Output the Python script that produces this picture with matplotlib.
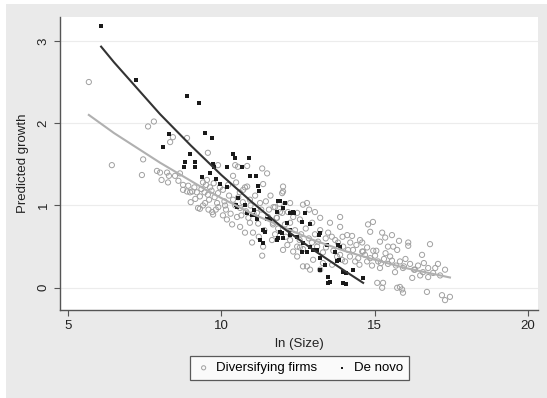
import matplotlib
matplotlib.use("Agg")
import matplotlib.pyplot as plt
from matplotlib.patches import Rectangle

plt.rcParams['font.family'] = ['Liberation Sans', 'DejaVu Sans']

# diversifying firms (hollow grey circles)
div_x = [5.68, 6.43, 7.61, 7.80, 7.45, 7.41, 7.90, 8.00, 8.23, 8.29, 8.49, 8.65, 8.26, 8.33, 8.42, 8.88, 8.05, 8.60, 8.75,
         9.56, 9.89, 10.45, 10.54, 10.84, 11.33, 11.49, 10.38, 10.77, 9.53, 9.40, 9.63,
         8.75, 8.88, 8.98, 9.05, 9.20, 9.30, 9.24, 9.30, 9.56, 9.47, 9.70, 9.73, 9.86, 9.89, 9.12, 9.35, 9.45, 9.60,
         9.68, 9.78, 9.90, 9.95, 9.15, 9.40, 9.58, 9.82, 9.00, 8.92, 9.50, 9.75,
         10.05, 10.18, 10.35, 10.38, 10.61, 10.51, 10.61, 10.71, 10.77, 10.93, 10.93, 11.03, 11.00, 10.84, 10.10,
         10.15, 10.25, 10.30, 10.45, 10.55, 10.65, 10.70, 10.80, 10.88, 10.95, 10.05, 10.22, 10.48, 10.60, 10.12,
         11.26, 11.16, 11.52, 11.68, 11.98, 11.98, 12.01, 11.36, 12.01, 11.36, 11.33, 11.10, 11.20, 11.30, 11.40,
         11.45, 11.55, 11.60, 11.70, 11.75, 11.80, 11.85, 11.90, 11.65, 11.81, 11.75, 11.68, 11.91, 11.05, 11.22,
         12.24, 12.47, 12.24, 12.47, 12.47, 12.07, 12.17, 12.34, 12.56, 12.66, 12.79, 12.86, 12.66, 12.24, 12.34,
         12.01, 12.56, 12.79, 12.66, 12.96, 12.99, 12.89, 12.10, 12.40, 12.60, 12.75, 12.85, 12.15, 12.95, 12.55,
         13.05, 13.22, 13.54, 13.87, 13.48, 13.22, 13.31, 13.22, 13.31, 13.61, 13.93, 13.77, 13.97, 13.87, 13.12,
         13.41, 13.15, 13.71, 13.87, 13.60, 13.40, 13.80, 13.05, 13.65, 13.95,
         14.10, 14.26, 14.52, 14.29, 14.62, 14.75, 14.19, 14.46, 14.03, 14.36, 14.13, 14.78, 14.94, 14.85, 14.59,
         14.59, 14.68, 14.85, 14.75, 14.91, 14.40, 14.20, 14.95, 14.50,
         15.24, 15.34, 15.56, 15.17, 15.79, 16.09, 16.09, 16.80, 15.43, 15.60, 15.73, 16.54, 15.01, 15.11, 15.30,
         15.43, 15.56, 15.69, 15.82, 15.95, 16.15, 16.28, 16.41, 16.57, 16.74, 16.90, 16.97, 17.13, 16.74, 16.48,
         16.22, 15.92, 16.31, 15.17, 15.66, 17.29, 17.06, 15.08, 15.27, 15.24, 15.73, 15.82, 15.89, 15.92, 16.70,
         17.19, 17.29, 17.45, 15.05, 15.35, 15.50, 15.20, 16.00, 16.60]
div_y = [2.50, 1.49, 1.96, 2.02, 1.56, 1.37, 1.42, 1.40, 1.40, 1.36, 1.36, 1.39, 1.28, 1.77, 1.83, 1.82, 1.31, 1.30, 1.25,
         1.64, 1.49, 1.49, 1.47, 1.48, 1.45, 1.39, 1.36, 1.22, 1.31, 1.28, 1.22,
         1.19, 1.17, 1.16, 1.17, 1.16, 1.11, 0.97, 0.96, 1.13, 1.03, 0.92, 0.89, 1.03, 1.15, 1.22, 1.20, 1.16, 1.07,
         1.18, 1.10, 0.98, 1.22, 1.08, 1.00, 0.95, 0.95, 1.04, 1.24, 1.25, 1.27,
         1.19, 0.83, 0.77, 1.07, 0.97, 0.86, 0.74, 1.19, 0.67, 1.07, 0.79, 0.67, 0.55, 1.23, 1.05,
         0.95, 1.12, 0.90, 1.00, 1.10, 0.88, 1.04, 0.93, 0.85, 1.00, 0.88, 1.25, 1.28, 1.16, 1.00,
         1.03, 0.91, 0.86, 0.79, 0.91, 1.15, 1.17, 1.26, 1.23, 0.50, 0.39, 1.12, 0.78, 0.95, 0.70,
         1.05, 0.95, 1.12, 0.98, 0.65, 0.85, 0.72, 1.02, 0.58, 0.85, 0.98, 0.77, 0.92, 0.90, 0.62,
         1.03, 0.91, 0.79, 0.50, 0.38, 0.77, 0.92, 0.86, 0.83, 1.01, 1.03, 0.95, 0.47, 0.58, 0.44,
         0.46, 0.49, 0.26, 0.26, 0.79, 0.34, 0.22, 0.62, 0.70, 0.65, 0.72, 0.60, 0.52, 0.55, 0.58,
         0.92, 0.85, 0.79, 0.74, 0.67, 0.70, 0.43, 0.22, 0.30, 0.28, 0.34, 0.38, 0.50, 0.86, 0.50,
         0.49, 0.56, 0.58, 0.40, 0.62, 0.60, 0.55, 0.65, 0.45, 0.62,
         0.64, 0.63, 0.58, 0.46, 0.44, 0.49, 0.38, 0.36, 0.32, 0.32, 0.46, 0.77, 0.80, 0.68, 0.55,
         0.44, 0.40, 0.36, 0.32, 0.27, 0.52, 0.55, 0.45, 0.28,
         0.67, 0.61, 0.64, 0.56, 0.57, 0.55, 0.51, 0.53, 0.50, 0.50, 0.46, 0.40, 0.39, 0.32, 0.35,
         0.29, 0.33, 0.27, 0.32, 0.26, 0.29, 0.22, 0.27, 0.19, 0.24, 0.18, 0.24, 0.15, 0.13, 0.15,
         0.12, 0.24, 0.22, 0.24, 0.19, 0.22, 0.29, 0.06, 0.06, 0.00, 0.00, 0.01, -0.02, -0.06, -0.05,
         -0.09, -0.15, -0.11, 0.45, 0.42, 0.38, 0.30, 0.35, 0.30]

# de novo entrants (small black dots)
dn_x = [6.08, 7.22, 8.88, 9.27, 9.47, 9.70, 8.10, 8.29, 8.98, 8.81, 9.14, 8.78, 9.14, 10.38, 10.45, 10.90, 9.73,
        9.76, 10.18, 10.67, 9.63, 9.37, 9.83, 10.93, 11.13, 9.96, 10.18, 11.19, 11.23, 10.54, 11.85, 10.77, 10.48,
        11.06, 10.51, 11.03, 11.16, 11.49, 11.85, 11.26, 11.36, 10.84, 11.00, 11.16, 11.36, 11.42, 11.59, 11.81,
        12.01, 12.14, 12.34, 12.24, 12.47, 11.81, 11.98, 11.91, 12.24, 12.73, 12.89, 13.22, 13.44, 13.80, 12.24,
        11.91, 12.01, 12.63, 12.79, 12.99, 13.12, 12.89, 12.66, 13.22, 13.71, 13.84, 14.29, 13.97, 14.06, 13.48,
        13.54, 13.97, 14.06, 14.62, 13.48, 13.22, 13.38, 13.77, 13.87, 13.18, 12.37, 12.07, 12.63]
dn_y = [3.18, 2.52, 2.33, 2.24, 1.88, 1.82, 1.71, 1.87, 1.62, 1.53, 1.53, 1.47, 1.47, 1.63, 1.58, 1.58, 1.51,
        1.47, 1.47, 1.47, 1.40, 1.34, 1.32, 1.36, 1.36, 1.26, 1.23, 1.24, 1.17, 1.09, 1.06, 1.01, 1.01,
        0.94, 0.98, 0.89, 0.86, 0.83, 0.61, 0.58, 0.55, 0.91, 0.89, 0.83, 0.70, 0.68, 0.83, 0.92,
        0.97, 0.79, 0.92, 0.64, 0.62, 0.58, 0.67, 1.05, 0.91, 0.91, 0.77, 0.67, 0.52, 0.52, 0.70,
        0.68, 0.61, 0.44, 0.43, 0.46, 0.46, 0.50, 0.55, 0.36, 0.43, 0.34, 0.22, 0.19, 0.18, 0.13,
        0.07, 0.06, 0.05, 0.12, 0.06, 0.22, 0.28, 0.32, 0.50, 0.64, 0.91, 1.03, 0.80]

# fitted curves
fit_div_x = [5.68, 6.5, 7, 7.5, 8, 8.5, 9, 9.5, 10, 11, 12, 13, 14, 15, 16, 17.45]
fit_div_y = [2.10, 1.88, 1.76, 1.64, 1.52, 1.41, 1.30, 1.19, 1.09, 0.90, 0.74, 0.58, 0.45, 0.34, 0.24, 0.125]
fit_dn_x = [6.08, 6.5, 7, 7.5, 8, 8.5, 9, 9.5, 10, 11, 12, 13, 14, 14.62]
fit_dn_y = [2.93, 2.74, 2.53, 2.32, 2.11, 1.92, 1.73, 1.55, 1.37, 1.04, 0.73, 0.46, 0.21, 0.06]

fig = plt.figure(figsize=(5.47, 3.98), dpi=100)
fig.patch.set_facecolor('white')
fig.patches.append(Rectangle((6 / 547, 0), 541 / 547, 394 / 398, transform=fig.transFigure,
                             facecolor='#eaeaea', edgecolor='none', zorder=-10))

ax = fig.add_axes([60 / 547, 1 - 310 / 398, 478 / 547, 293 / 398])
ax.set_facecolor('white')

ax.scatter(div_x, div_y, s=14, facecolors='none', edgecolors='#a0a0a0', linewidths=0.7,
           label='Diversifying firms', zorder=2)
ax.scatter(dn_x, dn_y, s=5, color='#1a1a1a', marker='s', linewidths=0, label='De novo', zorder=3)
ax.plot(fit_div_x, fit_div_y, color='#b0b0b0', lw=1.5, zorder=4)
ax.plot(fit_dn_x, fit_dn_y, color='#333333', lw=1.5, zorder=4)

ax.set_xlim(4.74, 20.32)
ax.set_ylim(-0.27, 3.29)
ax.set_xticks([5, 10, 15, 20])
ax.set_yticks([0, 1, 2, 3])
ax.grid(axis='y', color='#ececec', lw=0.8)
ax.set_axisbelow(True)
for s in ['top', 'right']:
    ax.spines[s].set_visible(False)
for s in ['left', 'bottom']:
    ax.spines[s].set_color('#555555')
    ax.spines[s].set_linewidth(1.0)
ax.tick_params(direction='out', length=4, color='#555555', labelsize=9.5, labelcolor='#222222')
for lab in ax.get_yticklabels():
    lab.set_rotation(90)
    lab.set_verticalalignment('center')

ax.set_xlabel('ln (Size)', fontsize=9.5, color='#222222', labelpad=4)
ax.set_ylabel('Predicted growth', fontsize=9.5, color='#222222', labelpad=6)

leg = fig.legend(loc='center', bbox_to_anchor=(0.547, 0.075), ncol=2, fontsize=9.5,
                 frameon=True, fancybox=False, edgecolor='#333333', facecolor='white',
                 handletextpad=0.3, columnspacing=1.3, handlelength=1.2, borderpad=0.45,
                 markerscale=0.8)
leg.get_frame().set_linewidth(0.9)

fig.savefig('out.png', dpi=100, facecolor=fig.get_facecolor())
